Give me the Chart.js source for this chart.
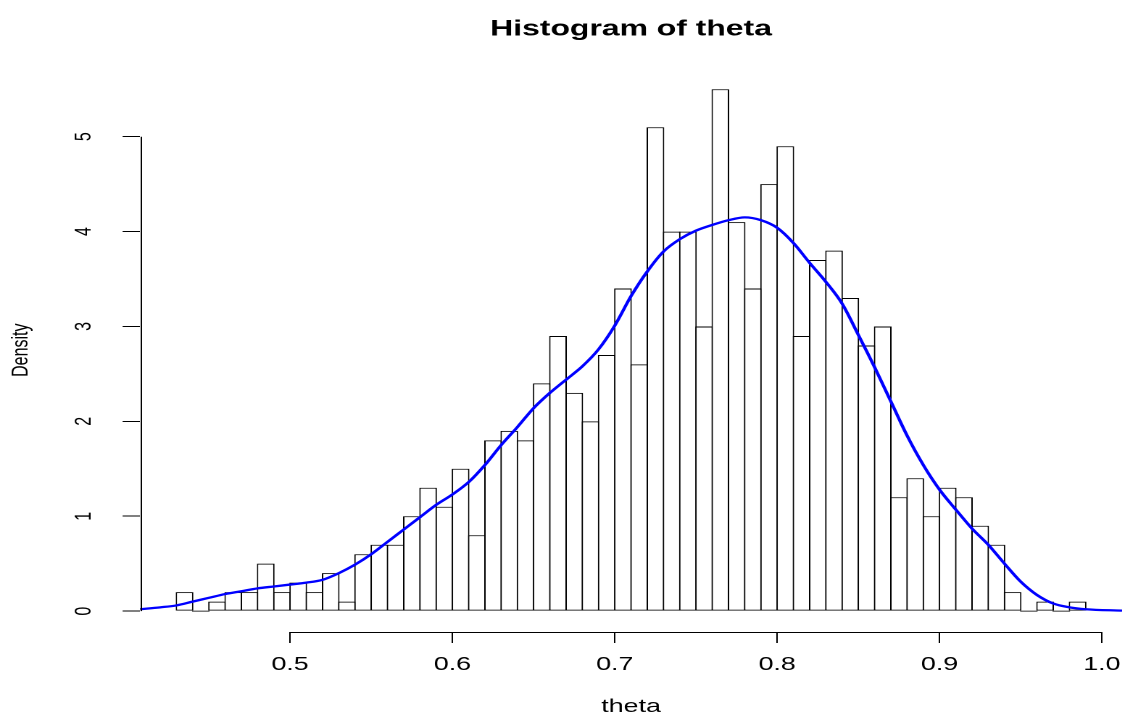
<!DOCTYPE html>
<html>
<head>
<meta charset="utf-8">
<script src="https://cdn.jsdelivr.net/npm/chart.js@4/dist/chart.umd.min.js"></script>
<style>
  html, body { margin: 0; padding: 0; background: #fff; overflow: hidden; }
  /* the reference is stretched sideways, so draw narrow and widen it */
  #wrap { width: 776px; height: 718px; transform: scaleX(1.4497); transform-origin: 0 0; }
</style>
</head>
<body>
<div id="wrap"><canvas id="histChart"></canvas></div>
<script>
// histogram bins (width 0.01), mid points and density
const binMids = [
  0.435, 0.445, 0.455, 0.465, 0.475, 0.485, 0.495, 0.505, 0.515, 0.525, 0.535,
  0.545, 0.555, 0.565, 0.575, 0.585, 0.595, 0.605, 0.615,
  0.625, 0.635, 0.645, 0.655, 0.665, 0.675, 0.685, 0.695,
  0.705, 0.715, 0.725, 0.735, 0.745, 0.755, 0.765, 0.775, 0.785, 0.795, 0.805,
  0.815, 0.825, 0.835, 0.845, 0.855, 0.865,
  0.875, 0.885, 0.895, 0.905, 0.915, 0.925, 0.935, 0.945, 0.955, 0.965, 0.975, 0.985
];
const density = [
  0.2, 0, 0.1, 0.2, 0.2, 0.5, 0.2, 0.3, 0.2, 0.4, 0.1,
  0.6, 0.7, 0.7, 1.0, 1.3, 1.1, 1.5, 0.8,
  1.8, 1.9, 1.8, 2.4, 2.9, 2.3, 2.0, 2.7,
  3.4, 2.6, 5.1, 4.0, 4.0, 3.0, 5.5, 4.1, 3.4, 4.5, 4.9,
  2.9, 3.7, 3.8, 3.3, 2.8, 3.0,
  1.2, 1.4, 1.0, 1.3, 1.2, 0.9, 0.7, 0.2, 0, 0.1, 0, 0.1
];

// kernel density curve
const curveX = [
  0.4076, 0.42, 0.43, 0.44, 0.45, 0.46, 0.47, 0.48, 0.49, 0.50,
  0.51, 0.52, 0.53, 0.54, 0.55, 0.56, 0.57, 0.58, 0.59, 0.60,
  0.61, 0.62, 0.63, 0.64, 0.65, 0.66, 0.67, 0.68, 0.69, 0.70,
  0.71, 0.72, 0.73, 0.74, 0.75, 0.76, 0.77, 0.78, 0.79, 0.80,
  0.81, 0.82, 0.83, 0.84, 0.85, 0.86, 0.87, 0.88, 0.89, 0.90,
  0.91, 0.92, 0.93, 0.94, 0.95, 0.96, 0.97, 0.98, 0.99, 1.0124
];
const curveY = [
  0.02, 0.04, 0.06, 0.10, 0.14, 0.18, 0.21, 0.24, 0.26, 0.28,
  0.30, 0.33, 0.40, 0.49, 0.60, 0.73, 0.86, 0.99, 1.12, 1.23,
  1.36, 1.54, 1.75, 1.94, 2.14, 2.30, 2.44, 2.58, 2.76, 3.01,
  3.32, 3.58, 3.79, 3.92, 4.01, 4.07, 4.12, 4.15, 4.12, 4.04,
  3.88, 3.67, 3.47, 3.24, 2.91, 2.57, 2.21, 1.85, 1.54, 1.28,
  1.07, 0.87, 0.70, 0.50, 0.31, 0.17, 0.08, 0.04, 0.02, 0.005
];

const xTicks = [0.5, 0.6, 0.7, 0.8, 0.9, 1.0];
const xTickLabels = ["0.5", "0.6", "0.7", "0.8", "0.9", "1.0"];
const yTicks = [0, 1, 2, 3, 4, 5];
const yTickLabels = ["0", "1", "2", "3", "4", "5"];

const FONT = "'Liberation Sans', Arial, Helvetica, sans-serif";

// R draws the axis line only between the first and last tick
const rAxisLines = {
  id: "rAxisLines",
  afterDraw(chart) {
    const { ctx, chartArea, scales } = chart;
    ctx.save();
    ctx.strokeStyle = "#000";
    ctx.lineWidth = 1;
    ctx.beginPath();
    const yl = Math.round(chartArea.left) + 0.5;
    ctx.moveTo(yl, scales.y.getPixelForValue(yTicks[0]));
    ctx.lineTo(yl, scales.y.getPixelForValue(yTicks[yTicks.length - 1]));
    const xb = Math.round(chartArea.bottom) + 0.5;
    ctx.moveTo(scales.x.getPixelForValue(xTicks[0]), xb);
    ctx.lineTo(scales.x.getPixelForValue(xTicks[xTicks.length - 1]), xb);
    ctx.stroke();
    ctx.restore();
  },
};

function drawChart() {
  const ctx = document.getElementById("histChart").getContext("2d");
  Chart.defaults.color = "#000";
  Chart.defaults.font.family = FONT;

  new Chart(ctx, {
    type: "bar",
    data: {
      datasets: [
        {
          type: "line",
          label: "density",
          data: curveX.map((x, i) => ({ x: x, y: curveY[i] })),
          borderColor: "#0000ff",
          borderWidth: 2.3,
          pointRadius: 0,
          cubicInterpolationMode: "monotone",
          fill: false,
          order: 0,
        },
        {
          label: "theta",
          data: binMids.map((x, i) => ({ x: x, y: density[i] })),
          backgroundColor: "#ffffff",
          borderColor: "#000000",
          borderWidth: 1,
          borderSkipped: false,
          barPercentage: 1.09, // overlap by one border so shared edges stay single
          categoryPercentage: 1.0,
          minBarLength: 1,
          order: 1,
        },
      ],
    },
    options: {
      responsive: true,
      maintainAspectRatio: false,
      animation: false,
      devicePixelRatio: 2,
      layout: { padding: { left: 0, right: 2, top: 0, bottom: 0 } },
      plugins: {
        legend: { display: false },
        tooltip: { enabled: false },
        title: {
          display: true,
          text: "Histogram of theta",
          fullSize: false,
          font: { family: FONT, size: 22, weight: "bold" },
          padding: { top: 16, bottom: 26 },
        },
      },
      scales: {
        x: {
          type: "linear",
          min: 0.4076,
          max: 1.0124,
          offset: false,
          afterBuildTicks: (axis) => { axis.ticks = xTicks.map((v) => ({ value: v })); },
          afterFit: (axis) => {
            axis.height = 86;
            axis.paddingLeft = 0;
            axis.paddingRight = 0;
          },
          border: { display: false },
          grid: {
            offset: false,
            drawOnChartArea: false,
            drawTicks: true,
            tickLength: 11,
            tickColor: "#000",
            color: "#000",
          },
          ticks: {
            font: { size: 18.5 },
            padding: 11,
            maxRotation: 0,
            autoSkip: false,
            callback: (value, index) => xTickLabels[index],
          },
          title: {
            display: true,
            text: "theta",
            font: { size: 18.5 },
            padding: { top: 0, bottom: 0 },
          },
        },
        y: {
          type: "linear",
          min: -0.22,
          max: 5.72,
          afterBuildTicks: (axis) => { axis.ticks = yTicks.map((v) => ({ value: v })); },
          afterFit: (axis) => {
            axis.width = 96.6;
            axis.paddingTop = 0;
            axis.paddingBottom = 0;
          },
          border: { display: false },
          grid: {
            drawOnChartArea: false,
            drawTicks: true,
            tickLength: 12,
            tickColor: "#000",
            color: "#000",
          },
          ticks: {
            font: { size: 16 },
            minRotation: 90,
            maxRotation: 90,
            crossAlign: "center",
            padding: 22,
            autoSkip: false,
            callback: (value, index) => yTickLabels[index],
          },
          title: {
            display: true,
            text: "Density",
            font: { size: 16 },
            padding: { top: 5, bottom: 0 },
          },
        },
      },
    },
    plugins: [rAxisLines],
  });
}

drawChart();
</script>
</body>
</html>
